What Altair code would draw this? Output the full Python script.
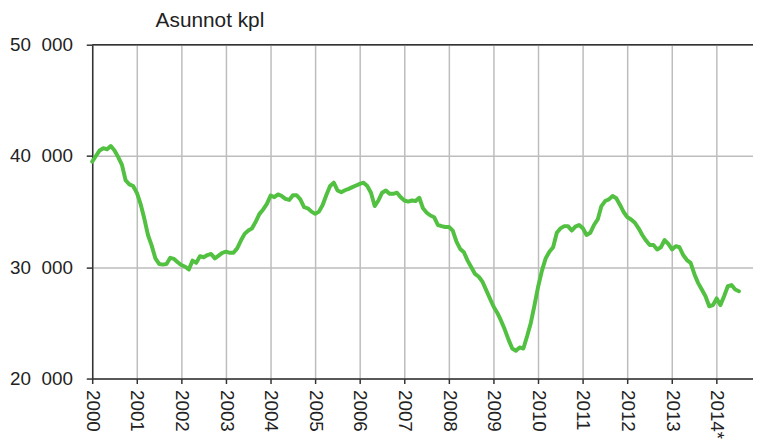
import altair as alt
import pandas as pd

# Monthly values, Jan 2000 .. Jul 2014
v2000 = [39500, 40000, 40500, 40700, 40600, 40900, 40500, 39900, 39200, 37800, 37450, 37300]
v2001 = [36700, 35700, 34400, 32900, 31950, 30800, 30300, 30240, 30300, 30850, 30750, 30450]
v2002 = [30200, 30050, 29800, 30600, 30400, 31000, 30900, 31100, 31200, 30800, 31050, 31300]
v2003 = [31400, 31300, 31300, 31700, 32400, 33000, 33300, 33500, 34100, 34800, 35200, 35700]
v2004 = [36450, 36300, 36550, 36400, 36150, 36050, 36470, 36470, 36100, 35400, 35300, 35000]
v2005 = [34800, 35000, 35600, 36500, 37300, 37600, 36900, 36750, 36920, 37050, 37200, 37350]
v2006 = [37500, 37600, 37300, 36700, 35500, 36000, 36700, 36900, 36600, 36600, 36700, 36300]
v2007 = [36000, 35900, 36000, 35950, 36250, 35300, 34900, 34650, 34500, 33800, 33700, 33620]
v2008 = [33620, 33300, 32300, 31650, 31350, 30600, 30000, 29400, 29150, 28700, 27950, 27200]
v2009 = [26450, 25900, 25200, 24400, 23500, 22700, 22500, 22800, 22700, 23800, 25000, 26600]
v2010 = [28300, 29700, 30800, 31400, 31800, 33100, 33500, 33700, 33700, 33300, 33650, 33800]
v2011 = [33500, 32900, 33100, 33800, 34300, 35500, 35950, 36100, 36400, 36200, 35600, 34950]
v2012 = [34500, 34300, 34000, 33500, 32900, 32400, 32000, 32000, 31600, 31800, 32450, 32100]
v2013 = [31600, 31900, 31800, 31100, 30650, 30400, 29400, 28600, 28000, 27400, 26500, 26600]
v2014 = [27200, 26600, 27400, 28300, 28400, 28000, 27850]

years = list(range(2000, 2015))
series = [v2000, v2001, v2002, v2003, v2004, v2005, v2006, v2007,
          v2008, v2009, v2010, v2011, v2012, v2013, v2014]

title_text = "Asunnot kpl"
y_ticks = [20000, 30000, 40000, 50000]

rows = []
for yr, vals in zip(years, series):
    for i, v in enumerate(vals):
        rows.append({"t": yr + i / 12.0, "v": v})
df = pd.DataFrame(rows)

FONT = "Liberation Sans"
x_scale = alt.Scale(domain=[2000, 2014.815], nice=False, zero=False)
y_scale = alt.Scale(domain=[20000, 50000], nice=False, zero=False)

base = alt.Chart(df)

line = base.mark_line(color="#52c041", strokeWidth=4, strokeJoin="round", strokeCap="round").encode(
    x=alt.X("t:Q", scale=x_scale,
            axis=alt.Axis(values=years, title=None, labelAngle=90,
                          labelExpr="datum.value == 2014 ? '2014*' : format(datum.value, 'd')",
                          labelFontSize=19, labelFont=FONT, labelColor="#222",
                          labelPadding=6, tickSize=5, tickColor="#333", tickWidth=1.5,
                          domainColor="#333", domainWidth=1.5,
                          grid=True, gridColor="#bdbdbd", gridWidth=1.5,
                          labelFlush=False, labelOverlap=False)),
    y=alt.Y("v:Q", scale=y_scale,
            axis=alt.Axis(values=y_ticks, title=None,
                          labelExpr="replace(format(datum.value, ','), ',', '\u2007')",
                          labelFontSize=19, labelFont=FONT, labelColor="#222",
                          labelPadding=14, tickSize=6, tickColor="#333", tickWidth=1.5,
                          domainColor="#333", domainWidth=1.5,
                          grid=True, gridColor="#bdbdbd", gridWidth=1.5)),
)

top_rule = alt.Chart(pd.DataFrame({"y": [50000]})).mark_rule(color="#333", strokeWidth=1.5).encode(
    y=alt.Y("y:Q", scale=y_scale)
)

title = alt.Chart(pd.DataFrame({"label": [title_text]})).mark_text(
    align="left", baseline="alphabetic", font=FONT, fontSize=21, color="#222"
).encode(text="label:N", x=alt.value(64), y=alt.value(-18))

chart = alt.layer(line, top_rule, title).properties(
    width=667, height=337,
    padding={"left": 85, "top": 35, "right": 0, "bottom": 65},
    autosize=alt.AutoSizeParams(type="none"),
).configure_view(stroke=None).configure(background="white")

chart.save("out.html", embed_options={"renderer": "svg", "actions": False})
